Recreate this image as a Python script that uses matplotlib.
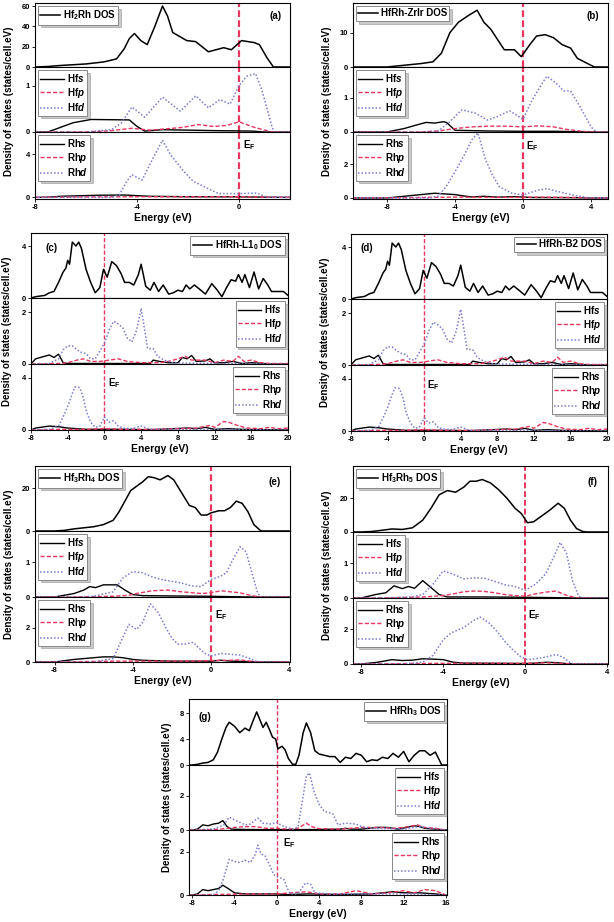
import matplotlib
matplotlib.use('Agg')
import matplotlib.pyplot as plt

plt.rcParams['font.family'] = ['Liberation Sans', 'DejaVu Sans']
plt.rcParams['font.weight'] = 'bold'
plt.rcParams['axes.unicode_minus'] = False
plt.rcParams['mathtext.fontset'] = 'custom'
plt.rcParams['mathtext.rm'] = 'Liberation Sans:bold'
plt.rcParams['mathtext.it'] = 'Liberation Sans:italic'
plt.rcParams['mathtext.bf'] = 'Liberation Sans:bold'
plt.rcParams['mathtext.bfit'] = 'Liberation Sans:italic:bold'

RED = '#e8365e'
BLUE = '#7b7bd4'

# ---------------- (a) Hf2Rh ----------------
a_tot_e = [-8, -7.5, -7, -6, -5.3, -4.8, -4.5, -4.3, -4.1, -3.85, -3.6, -3.3, -3.0, -2.8, -2.6, -2.05, -1.7, -1.2, -0.6, -0.3, 0.1, 0.6, 0.8, 1.1, 1.35, 2]
a_tot = [0, 0.5, 1.5, 3, 5, 8, 18, 28, 33, 26, 22, 40, 60, 50, 34, 26, 25, 15, 19, 17, 26, 24, 22, 9, 0, 0]
a_hfs_e = [-8, -7.5, -7, -6.5, -5.8, -4.3, -4.0, -3.7, -3.0, -2.0, -1.0, 0.5, 1.0, 2]
a_hfs = [0, 0, 0.1, 0.2, 0.27, 0.26, 0.12, 0.02, 0.05, 0.04, 0.03, 0.02, 0, 0]
a_hfp_e = [-8, -6, -5, -4.2, -3.5, -2.8, -2.2, -1.6, -1.0, -0.5, 0.0, 0.6, 1.3, 2]
a_hfp = [0, 0, 0.03, 0.08, 0.04, 0.07, 0.1, 0.16, 0.12, 0.14, 0.22, 0.1, 0, 0]
a_hfd_e = [-8, -6, -5, -4.6, -4.2, -3.7, -3.0, -2.3, -1.7, -1.2, -0.75, -0.35, 0.0, 0.3, 0.65, 0.9, 1.3, 1.4, 2]
a_hfd = [0, 0, 0.05, 0.2, 0.54, 0.32, 0.75, 0.45, 0.78, 0.52, 0.7, 0.6, 1.0, 1.2, 1.26, 0.9, 0.1, 0, 0]
a_rhs_e = [-8, -7.5, -7, -5.5, -4.5, -3.5, -2.0, 0.0, 1.0, 2]
a_rhs = [0, 0.02, 0.1, 0.2, 0.22, 0.1, 0.06, 0.05, 0.02, 0]
a_rhp_e = [-8, -6, -4, -2, 0, 1.2, 2]
a_rhp = [0, 0.04, 0.06, 0.05, 0.06, 0.02, 0]
a_rhd_e = [-8, -5, -4.7, -4.4, -4.2, -3.8, -3.4, -3.0, -2.7, -2.2, -1.8, -1.2, -0.8, 0.0, 0.7, 1.0, 1.3, 2]
a_rhd = [0, 0, 0.2, 1.5, 2.1, 1.6, 3.5, 5.3, 4.0, 2.5, 1.5, 0.8, 0.35, 0.35, 0.4, 0.1, 0, 0]

# ---------------- (b) HfRh-ZrIr ----------------
b_tot_e = [-10, -8, -7, -6, -5.3, -4.8, -4.3, -3.8, -3.2, -2.7, -2.3, -1.9, -1.5, -1.1, -0.5, -0.1, 0.4, 0.8, 1.3, 1.8, 2.3, 2.8, 3.2, 3.8, 4.2, 5]
b_tot = [0, 0, 0.5, 1, 1.5, 4, 10, 13, 15, 16.5, 13, 11, 8, 5, 5, 3, 6.5, 9, 9.4, 8.5, 6.5, 5.5, 2.5, 1.0, 0, 0]
b_hfs_e = [-10, -8, -7, -6.3, -5.7, -5.2, -4.7, -4.5, -4.0, -2, 0, 2, 4, 5]
b_hfs = [0, 0, 0.1, 0.2, 0.28, 0.26, 0.3, 0.28, 0.05, 0.03, 0.02, 0.02, 0, 0]
b_hfp_e = [-10, -6, -5, -4, -3, -2, -1, 0, 0.9, 1.8, 2.5, 3.5, 4, 5]
b_hfp = [0, 0, 0.03, 0.1, 0.15, 0.17, 0.17, 0.15, 0.18, 0.15, 0.08, 0.02, 0, 0]
b_hfd_e = [-10, -6, -5, -4.3, -3.6, -2.8, -2.1, -1.5, -0.8, -0.4, 0, 0.5, 1.1, 1.4, 1.9, 2.4, 2.8, 3.4, 4, 4.3, 5]
b_hfd = [0, 0, 0.03, 0.3, 0.65, 0.55, 0.35, 0.45, 0.62, 0.5, 0.37, 0.9, 1.4, 1.63, 1.45, 1.2, 1.2, 0.7, 0.15, 0, 0]
b_rhs_e = [-10, -8, -7, -6, -5.2, -4, -3.5, -3, -2.3, -1.5, -0.5, 0.5, 3, 4, 5]
b_rhs = [0, 0, 0.1, 0.2, 0.28, 0.2, 0.12, 0.06, 0.1, 0.05, 0.08, 0.03, 0.02, 0, 0]
b_rhp_e = [-10, -7, -4, -1, 1, 3, 4, 5]
b_rhp = [0, 0.02, 0.05, 0.04, 0.05, 0.03, 0, 0]
b_rhd_e = [-10, -5.5, -5, -4.5, -3.8, -3.4, -3.0, -2.65, -2.2, -1.8, -1.4, -0.65, 0, 0.9, 1.4, 2.1, 2.9, 3.7, 4, 5]
b_rhd = [0, 0, 0.1, 0.7, 1.9, 2.65, 3.45, 3.85, 2.25, 1.35, 0.67, 0.28, 0.18, 0.47, 0.55, 0.37, 0.18, 0.04, 0, 0]

# ---------------- (c) HfRh-L10 / (d) HfRh-B2 ----------------
c_tot_e = [-8, -7.5, -7, -6.5, -6, -5.5, -5, -4.5, -4.2, -4.0, -3.8, -3.5, -3.1, -2.8, -2.5, -2.0, -1.5, -1.0, -0.5, -0.1,
           0.3, 0.8, 1.3, 1.8, 2.2, 2.7, 3.2, 3.7, 4.0, 4.5, 5.0, 5.4, 5.9, 6.4, 7.0, 7.5, 8.0, 8.5, 8.9, 9.3,
           9.8, 10.5, 11.0, 11.7, 12.3, 12.8, 13.3, 13.8, 14.3, 14.6, 15.0, 15.3, 15.8, 16.3, 16.8, 17.3, 17.8, 18.2, 19.0, 19.5, 20]
c_tot = [0, 0.1, 0.15, 0.2, 0.4, 0.5, 1.2, 2.0, 2.3, 2.9, 2.6, 4.3, 4.0, 4.3, 3.8, 2.2, 1.2, 0.4, 0.8, 2.2,
         1.6, 2.8, 2.5, 1.9, 1.2, 1.2, 1.0, 1.8, 2.6, 0.9, 0.6, 1.2, 0.5, 1.0, 0.3, 0.4, 0.6, 0.5, 1.0, 0.7,
         1.0, 0.6, 0.3, 1.1, 0.6, 0.1, 0.8, 1.4, 1.3, 1.8, 1.2, 1.8, 0.8, 2.0, 0.7, 1.5, 1.0, 0.5, 0.5, 0.5, 0.2]
c_hfs_e = [-8, -7.5, -7, -6.5, -6, -5.5, -5, -4.5, -4, 0, 5, 5.3, 6, 7, 8, 8.5, 9, 9.5, 10, 11, 11.5, 12, 13, 14, 15, 16, 17, 18, 20]
c_hfs = [0, 0.2, 0.25, 0.3, 0.35, 0.25, 0.38, 0.05, 0.02, 0.02, 0.02, 0.15, 0.1, 0.05, 0.05, 0.25, 0.2, 0.33, 0.1, 0.12, 0.2, 0.05, 0.05, 0.1, 0.02, 0.05, 0.03, 0, 0]
c_hfp_e = [-8, -5, -4, -3, -2.3, -1.5, -0.5, 0, 0.5, 1.5, 2.5, 4, 6, 7, 8, 8.8, 9.5, 11, 12, 13, 14, 14.6, 15.2, 16, 17, 18, 20]
c_hfp = [0, 0.02, 0.05, 0.15, 0.2, 0.1, 0.1, 0.12, 0.15, 0.2, 0.1, 0.05, 0.05, 0.1, 0.2, 0.3, 0.15, 0.15, 0.05, 0.15, 0.1, 0.3, 0.1, 0.15, 0.05, 0.02, 0.02]
c_hfd_e = [-8, -6, -5, -4.5, -4, -3.5, -3, -2.5, -2, -1.5, -1, -0.5, 0, 0.5, 1, 1.5, 2, 2.5, 3, 3.5, 4, 4.3, 4.7, 5.3, 5.8, 6.5, 7.5, 10, 20]
c_hfd = [0, 0.02, 0.2, 0.55, 0.7, 0.7, 0.55, 0.45, 0.4, 0.2, 0.2, 0.5, 0.8, 1.3, 1.65, 1.55, 1.4, 1.0, 0.85, 1.3, 2.15, 1.5, 0.6, 0.6, 0.3, 0.15, 0.05, 0.03, 0]
c_rhs_e = [-8, -7.5, -6, -5, -4, -3, -2, 0, 2, 5, 9, 10, 11, 12, 13.5, 15, 20]
c_rhs = [0, 0.15, 0.3, 0.25, 0.15, 0.1, 0.05, 0.05, 0.05, 0.02, 0.15, 0.1, 0.2, 0.05, 0.1, 0.05, 0]
c_rhp_e = [-8, -5, -2, 0, 2, 4, 6, 8, 10, 11.5, 12, 13, 13.5, 14.5, 15.5, 17, 18, 19, 20]
c_rhp = [0, 0.05, 0.05, 0.1, 0.05, 0.05, 0.05, 0.1, 0.15, 0.35, 0.2, 0.65, 0.6, 0.35, 0.15, 0.1, 0.2, 0.1, 0.15]
c_rhd_e = [-8, -6, -5, -4.5, -4, -3.5, -3.2, -2.7, -2.3, -2, -1.5, -1, -0.5, 0, 0.5, 1, 1.5, 2, 3, 4, 5, 8, 20]
c_rhd = [0, 0.05, 0.3, 1.0, 1.8, 2.8, 3.3, 3.25, 2.5, 1.5, 0.6, 0.2, 0.3, 1.0, 0.6, 0.7, 0.3, 0.15, 0.1, 0.3, 0.05, 0.05, 0]

# ---------------- (e) Hf3Rh4 ----------------
e_tot_e = [-9, -8, -7.5, -7, -6.5, -6, -5.5, -5, -4.7, -4.4, -4.1, -3.8, -3.5, -3.2, -2.9, -2.6, -2.2, -1.9, -1.5, -1.1,
           -0.8, -0.5, -0.2, 0, 0.4, 0.7, 1.0, 1.3, 1.6, 1.9, 2.2, 2.5, 2.6, 4]
e_tot = [0, 0, 0.3, 1, 1.5, 2, 3, 5, 9, 14, 19, 21, 23, 25.5, 25, 24, 26, 24, 18, 12,
         11, 7.5, 7.5, 8.5, 9.5, 9.5, 11, 14, 13, 9, 3, 0.5, 0, 0]
e_hfs_e = [-9, -8, -7, -6.5, -6.2, -5.9, -5.5, -4.8, -4.4, -4.0, -3.5, -2, 0, 1, 2, 4]
e_hfs = [0, 0, 0.1, 0.2, 0.3, 0.27, 0.35, 0.35, 0.2, 0.07, 0.04, 0.03, 0.02, 0.01, 0, 0]
e_hfp_e = [-9, -7, -5, -4.2, -3.8, -3, -2.2, -1.5, -0.5, 0, 0.5, 1, 1.5, 2, 2.5, 4]
e_hfp = [0, 0, 0.02, 0.05, 0.1, 0.18, 0.2, 0.15, 0.1, 0.12, 0.18, 0.15, 0.12, 0.05, 0, 0]
e_hfd_e = [-9, -7, -6, -5, -4.5, -4, -3.5, -3, -2.5, -2, -1.5, -1, -0.5, 0, 0.5, 0.8, 1.1, 1.5, 1.8, 2.1, 2.4, 2.6, 4]
e_hfd = [0, 0, 0.02, 0.15, 0.55, 0.73, 0.7, 0.58, 0.5, 0.45, 0.4, 0.32, 0.3, 0.5, 0.6, 0.7, 1.05, 1.45, 1.3, 0.7, 0.1, 0, 0]
e_rhs_e = [-9, -8, -7, -6, -5.5, -5, -4.5, -4, -3.5, -2, 0, 0.5, 1, 2, 2.5, 4]
e_rhs = [0, 0, 0.15, 0.25, 0.3, 0.3, 0.25, 0.15, 0.1, 0.05, 0.05, 0.1, 0.05, 0.02, 0, 0]
e_rhp_e = [-9, -8, -5, -3, -1, 0, 1, 1.5, 2, 2.5, 4]
e_rhp = [0, 0, 0.05, 0.05, 0.05, 0.08, 0.1, 0.12, 0.05, 0, 0]
e_rhd_e = [-9, -6, -5, -4.6, -4.2, -3.8, -3.5, -3.1, -2.7, -2.3, -2.0, -1.7, -1.3, -0.9, -0.6, -0.3, 0, 0.5, 1.0, 1.5, 2, 2.3, 2.5, 4]
e_rhd = [0, 0, 0.2, 1.2, 2.2, 1.9, 2.3, 3.4, 2.9, 2.0, 1.4, 1.05, 1.05, 1.15, 0.8, 0.5, 0.35, 0.5, 0.45, 0.4, 0.2, 0.05, 0, 0]

# ---------------- (f) Hf3Rh5 ----------------
f_tot_e = [-8.4, -8, -7.5, -7, -6.5, -6, -5.5, -5, -4.6, -4.2, -3.8, -3.4, -3.0, -2.7, -2.4, -2.1, -1.7, -1.3, -0.9, -0.5,
           -0.2, 0.1, 0.4, 0.8, 1.2, 1.6, 1.9, 2.2, 2.5, 2.8, 3, 4]
f_tot = [0, 0, 0.3, 1, 1.8, 1.5, 2.5, 7, 14, 22, 24.5, 23.5, 26.5, 30, 30, 31, 29, 25, 20, 14,
         11, 5.5, 6, 9.5, 13, 17, 14, 7, 2, 0.3, 0, 0]
f_hfs_e = [-8.4, -8, -7.3, -6.8, -6.4, -6.0, -5.7, -5.4, -5.0, -4.6, -4.2, -3.8, -2, 0, 1.5, 2.5, 4]
f_hfs = [0, 0, 0.1, 0.15, 0.35, 0.27, 0.33, 0.28, 0.5, 0.3, 0.1, 0.03, 0.03, 0.02, 0.01, 0, 0]
f_hfp_e = [-8.4, -7, -5, -4, -3.5, -3, -2.5, -2, -1.5, -1, -0.5, 0, 0.5, 1, 1.5, 2, 2.5, 4]
f_hfp = [0, 0, 0.03, 0.07, 0.12, 0.18, 0.2, 0.19, 0.15, 0.1, 0.07, 0.05, 0.12, 0.17, 0.2, 0.08, 0, 0]
f_hfd_e = [-8.4, -7, -5.5, -5, -4.5, -4, -3.5, -3, -2.5, -2, -1.5, -1, -0.5, 0, 0.5, 1.0, 1.4, 1.7, 2.0, 2.3, 2.6, 2.8, 4]
f_hfd = [0, 0, 0.03, 0.1, 0.4, 0.78, 0.68, 0.55, 0.58, 0.57, 0.48, 0.38, 0.33, 0.22, 0.4, 0.7, 1.2, 1.6, 1.3, 0.5, 0.05, 0, 0]
f_rhs_e = [-8.4, -8, -7.2, -6.5, -6, -5.5, -5, -4.5, -4, -3.5, -3, 0, 0.5, 1, 1.5, 2, 2.5, 4]
f_rhs = [0, 0, 0.1, 0.25, 0.2, 0.22, 0.3, 0.28, 0.25, 0.1, 0.05, 0.03, 0.05, 0.1, 0.08, 0.02, 0, 0]
f_rhp_e = [-8.4, -8, -5, -3, -1, 0, 1, 1.5, 2.5, 4]
f_rhp = [0, 0, 0.03, 0.05, 0.04, 0.03, 0.07, 0.05, 0, 0]
f_rhd_e = [-8.4, -6, -5, -4.5, -4.0, -3.6, -3.0, -2.6, -2.2, -1.8, -1.4, -1.0, -0.6, -0.2, 0.1, 0.5, 1.0, 1.5, 1.9, 2.2, 2.4, 4]
f_rhd = [0, 0, 0.1, 0.5, 1.4, 1.8, 2.1, 2.45, 2.7, 2.4, 1.9, 1.3, 0.8, 0.4, 0.25, 0.3, 0.4, 0.55, 0.35, 0.05, 0, 0]

# ---------------- (g) HfRh3 ----------------
g_tot_e = [-8.3, -8, -7.5, -7, -6.5, -6, -5.6, -5.2, -4.8, -4.5, -4.0, -3.5, -3.0, -2.6, -2.2, -1.9, -1.6, -1.3, -1.0, -0.7,
           -0.4, -0.1, 0.1, 0.5, 0.8, 1.1, 1.5, 1.8, 2.1, 2.5, 2.8, 3.2, 3.6, 4.0, 4.5, 5.0, 5.5, 6.0, 6.5, 7.0,
           7.5, 8.0, 8.5, 9.0, 9.5, 10.0, 10.5, 11.0, 11.5, 12.0, 12.5, 13.0, 13.5, 14.0, 14.5, 15.0, 15.3, 15.6, 16.1]
g_tot = [0, 0, 0.1, 0.3, 0.4, 0.8, 2, 4, 5.8, 6.6, 6.0, 5.0, 5.7, 5.3, 7.0, 8.2, 7.0, 5.8, 6.6, 5.5,
         4.3, 4.0, 2.5, 2.9, 2.3, 1.0, 0.1, 0.1, 1.5, 5, 6.5, 5, 2.2, 1.7, 1.5, 1.3, 1.3, 0.4, 1.2, 1.0,
         1.8, 1.5, 0.5, 0.8, 0.7, 1.2, 1.0, 1.8, 1.2, 2.1, 0.5, 1.5, 2.2, 2.2, 1.5, 2.0, 1.0, 0, 0]
g_hfs_e = [-8.3, -8, -7.5, -7, -6.5, -6, -5.5, -5.1, -4.7, -4.3, -3, 0, 2, 4, 6, 6.5, 7, 8, 9.5, 10.5, 11.5, 13, 13.5, 14, 15, 16, 16.1]
g_hfs = [0, 0, 0.05, 0.3, 0.25, 0.35, 0.4, 0.55, 0.2, 0.05, 0.03, 0.02, 0.02, 0.03, 0.05, 0.1, 0.05, 0.05, 0.15, 0.15, 0.05, 0.25, 0.2, 0.1, 0.05, 0, 0]
g_hfp_e = [-8.3, -6, -5, -4, -3, -2, -1, 0, 1, 2, 2.8, 3.3, 4, 6, 8, 10, 11, 12, 13.3, 14, 15, 16, 16.1]
g_hfp = [0, 0.03, 0.07, 0.15, 0.2, 0.2, 0.1, 0.1, 0.05, 0.1, 0.4, 0.2, 0.08, 0.05, 0.15, 0.15, 0.1, 0.15, 0.3, 0.15, 0.1, 0, 0]
g_hfd_e = [-8.3, -6, -5, -4.5, -4, -3, -2.5, -1.8, -1.3, -0.5, 0, 0.5, 1, 1.5, 2, 2.5, 2.8, 3.1, 3.5, 4, 4.5, 5.3, 5.8, 6.5, 7.5, 8, 9, 10, 12, 13.5, 15, 16, 16.1]
g_hfd = [0, 0.05, 0.3, 0.75, 0.6, 0.3, 0.35, 0.7, 0.4, 0.35, 0.45, 0.25, 0.15, 0.05, 0.15, 2.0, 3.2, 3.35, 2.3, 1.5, 1.1, 0.95, 0.3, 0.4, 0.35, 0.2, 0.1, 0.1, 0.05, 0.2, 0.05, 0, 0]
g_rhs_e = [-8.3, -8, -7.5, -7, -6.5, -6, -5.5, -5.1, -4.6, -4, -3, 0, 1, 3, 6, 9, 11, 12, 13.5, 15, 16, 16.1]
g_rhs = [0, 0, 0.05, 0.25, 0.2, 0.25, 0.3, 0.45, 0.3, 0.1, 0.05, 0.05, 0.02, 0.05, 0.02, 0.05, 0.15, 0.1, 0.1, 0.05, 0, 0]
g_rhp_e = [-8.3, -5, -2, 0, 2.8, 4, 6, 7.5, 9, 10.5, 12, 13, 14, 15, 16, 16.1]
g_rhp = [0, 0.03, 0.05, 0.05, 0.15, 0.05, 0.05, 0.2, 0.05, 0.1, 0.2, 0.1, 0.25, 0.2, 0, 0]
g_rhd_e = [-8.3, -6, -5.5, -5, -4.5, -4, -3.5, -3, -2.5, -2, -1.8, -1.5, -1.1, -0.7, -0.3, 0, 0.3, 0.7, 1.0, 1.3, 2, 2.7, 3.2, 3.6, 5, 8, 12, 16, 16.1]
g_rhd = [0, 0, 0.2, 0.8, 1.65, 1.55, 1.5, 1.6, 1.5, 1.9, 2.3, 1.9, 1.8, 1.4, 0.95, 0.85, 0.8, 0.7, 0.3, 0.05, 0.05, 0.55, 0.5, 0.1, 0.05, 0.05, 0.05, 0, 0]

titles = [r'Hf$_\mathbf{2}$Rh DOS', 'HfRh-ZrIr DOS', r'HfRh-L1$_\mathbf{0}$ DOS', 'HfRh-B2 DOS',
          r'Hf$_\mathbf{3}$Rh$_\mathbf{4}$ DOS', r'Hf$_\mathbf{3}$Rh$_\mathbf{5}$ DOS', r'HfRh$_\mathbf{3}$ DOS']
hf_labels = [r'Hf$\mathbfit{s}$', r'Hf$\mathbfit{p}$', r'Hf$\mathbfit{d}$']
rh_labels = [r'Rh$\mathbfit{s}$', r'Rh$\mathbfit{p}$', r'Rh$\mathbfit{d}$']

W, H = 614, 922
fig = plt.figure(figsize=(W / 100, H / 100), dpi=100)


def box(l, r, t, b):
    return [l / W, 1 - b / H, (r - l) / W, (b - t) / H]


def px(x, y):
    return x / W, 1 - y / H


panels = [
    # label, frame px (l, r, top, b1, b2, b3), xlim, xticks, ylims, yticks, legend side, label xy, EF xy, ylabel x, vline lw
    ('(a)', (35, 290, 3, 67, 132, 199), (-8, 2), [-8, -4, 0],
     [(0, 63), (0, 1.4), (-0.15, 6.05)], [[0, 20, 40, 60], [0, 1], [0, 4]], 'left', (276, 16), (243, 145), 9, 1.6,
     (a_tot_e, a_tot), [(a_hfs_e, a_hfs), (a_hfp_e, a_hfp), (a_hfd_e, a_hfd)], [(a_rhs_e, a_rhs), (a_rhp_e, a_rhp), (a_rhd_e, a_rhd)]),
    ('(b)', (353, 608, 3, 67, 132, 199), (-10, 5), [-8, -4, 0, 4],
     [(0, 18.6), (0, 1.9), (-0.06, 3.9)], [[0, 10], [0, 1], [0, 2]], 'left', (593, 16), (526, 146), 327, 1.6,
     (b_tot_e, b_tot), [(b_hfs_e, b_hfs), (b_hfp_e, b_hfp), (b_hfd_e, b_hfd)], [(b_rhs_e, b_rhs), (b_rhp_e, b_rhp), (b_rhd_e, b_rhd)]),
    ('(c)', (31, 288, 233, 298, 364, 430), (-8, 20), list(range(-8, 21, 4)),
     [(0, 5.0), (0, 2.55), (0, 5.05)], [[0, 4], [0, 2], [0, 4]], 'right', (52, 248), (108, 383), 7, 1.0,
     (c_tot_e, c_tot), [(c_hfs_e, c_hfs), (c_hfp_e, c_hfp), (c_hfd_e, c_hfd)], [(c_rhs_e, c_rhs), (c_rhp_e, c_rhp), (c_rhd_e, c_rhd)]),
    ('(d)', (351, 607, 234, 299, 365, 431), (-8, 20), list(range(-8, 21, 4)),
     [(0, 5.0), (0, 2.55), (0, 5.05)], [[0, 4], [0, 2], [0, 4]], 'right', (367, 248), (427, 385), 325, 1.0,
     (c_tot_e, c_tot), [(c_hfs_e, c_hfs), (c_hfp_e, c_hfp), (c_hfd_e, c_hfd)], [(c_rhs_e, c_rhs), (c_rhp_e, c_rhp), (c_rhd_e, c_rhd)]),
    ('(e)', (35, 290, 466, 531, 597, 662), (-9, 4.05), [-8, -4, 0, 4],
     [(0, 30.5), (0, 1.9), (0, 3.8)], [[0, 20], [0, 1], [0, 2]], 'left', (275, 482), (215, 615), 9, 1.6,
     (e_tot_e, e_tot), [(e_hfs_e, e_hfs), (e_hfp_e, e_hfp), (e_hfd_e, e_hfd)], [(e_rhs_e, e_rhs), (e_rhp_e, e_rhp), (e_rhd_e, e_rhd)]),
    ('(f)', (353, 608, 466, 532, 598, 664), (-8.4, 4.03), [-8, -4, 0, 4],
     [(0, 39), (0, 1.9), (0, 3.8)], [[0, 20], [0, 1], [0, 2]], 'left', (592, 482), (528, 615), 327, 1.4,
     (f_tot_e, f_tot), [(f_hfs_e, f_hfs), (f_hfp_e, f_hfp), (f_hfd_e, f_hfd)], [(f_rhs_e, f_rhs), (f_rhp_e, f_rhp), (f_rhd_e, f_rhd)]),
    ('(g)', (189, 447, 699, 765, 830, 895), (-8.3, 16.1), list(range(-8, 17, 4)),
     [(0, 10.2), (0, 3.82), (0, 3.0)], [[0, 4, 8], [0, 2], [0, 2]], 'right', (205, 717), (283, 843), 167, 1.0,
     (g_tot_e, g_tot), [(g_hfs_e, g_hfs), (g_hfp_e, g_hfp), (g_hfd_e, g_hfd)], [(g_rhs_e, g_rhs), (g_rhp_e, g_rhp), (g_rhd_e, g_rhd)]),
]

styles = [dict(color='black', ls='-', lw=1.0),
          dict(color=RED, ls=(0, (3, 1.5)), lw=1.0),
          dict(color=BLUE, ls=(0, (1, 1.3)), lw=1.1)]
legprop = {'weight': 'bold', 'size': 7}

for k, (lab, fr, xlim, xticks, ylims, yticks, side, lab_xy, ef_xy, ylx, vlw, tot, hf, rh) in enumerate(panels):
    l, r, t, b1, b2, b3 = fr
    axs = [fig.add_axes(box(l, r, t, b1)), fig.add_axes(box(l, r, b1, b2)), fig.add_axes(box(l, r, b2, b3))]
    loc = 'upper left' if side == 'left' else 'upper right'

    axs[0].plot(tot[0], tot[1], color='black', lw=1.1, label=titles[k])
    for (xe, yv), st, lb in zip(hf, styles, hf_labels):
        axs[1].plot(xe, yv, label=lb, **st)
    for (xe, yv), st, lb in zip(rh, styles, rh_labels):
        axs[2].plot(xe, yv, label=lb, **st)

    for i, ax in enumerate(axs):
        ax.set_xlim(xlim)
        ax.set_ylim(ylims[i])
        ax.set_yticks(yticks[i])
        ax.set_xticks(xticks)
        ax.axvline(0, color=RED, ls=(0, (3, 1.5)), lw=vlw, zorder=1)
        for s in ax.spines.values():
            s.set_linewidth(0.8)
        ax.tick_params(labelsize=5.5, width=0.6, length=2, direction='out', pad=1.5)
        if i < 2:
            ax.tick_params(axis='x', bottom=False, labelbottom=False)
        leg = ax.legend(loc=loc, prop=legprop, frameon=True, fancybox=False, shadow={'alpha': 0.3},
                        borderaxespad=0.3, borderpad=0.25, labelspacing=0.15,
                        handlelength=2.4 if i else 2.0, handletextpad=0.3)
        leg.get_frame().set_edgecolor('#888888')
        leg.get_frame().set_linewidth(0.7)

    x0, y0 = px(*lab_xy)
    fig.text(x0, y0, lab, fontsize=7, fontweight='bold', ha='center', va='center')
    x0, y0 = px(*ef_xy)
    fig.text(x0, y0, r'E$_\mathbf{F}$', fontsize=7, fontweight='bold', ha='left', va='center')
    x0, y0 = px(ylx, (t + b3) / 2)
    fig.text(x0, y0, 'Density of states (states/cell.eV)', fontsize=7, fontweight='bold',
             rotation=90, ha='center', va='center')
    x0, y0 = px((l + r) / 2, b3 + 19)
    fig.text(x0, y0, 'Energy (eV)', fontsize=7.5, fontweight='bold', ha='center', va='center')

fig.savefig('out.png', dpi=100)
